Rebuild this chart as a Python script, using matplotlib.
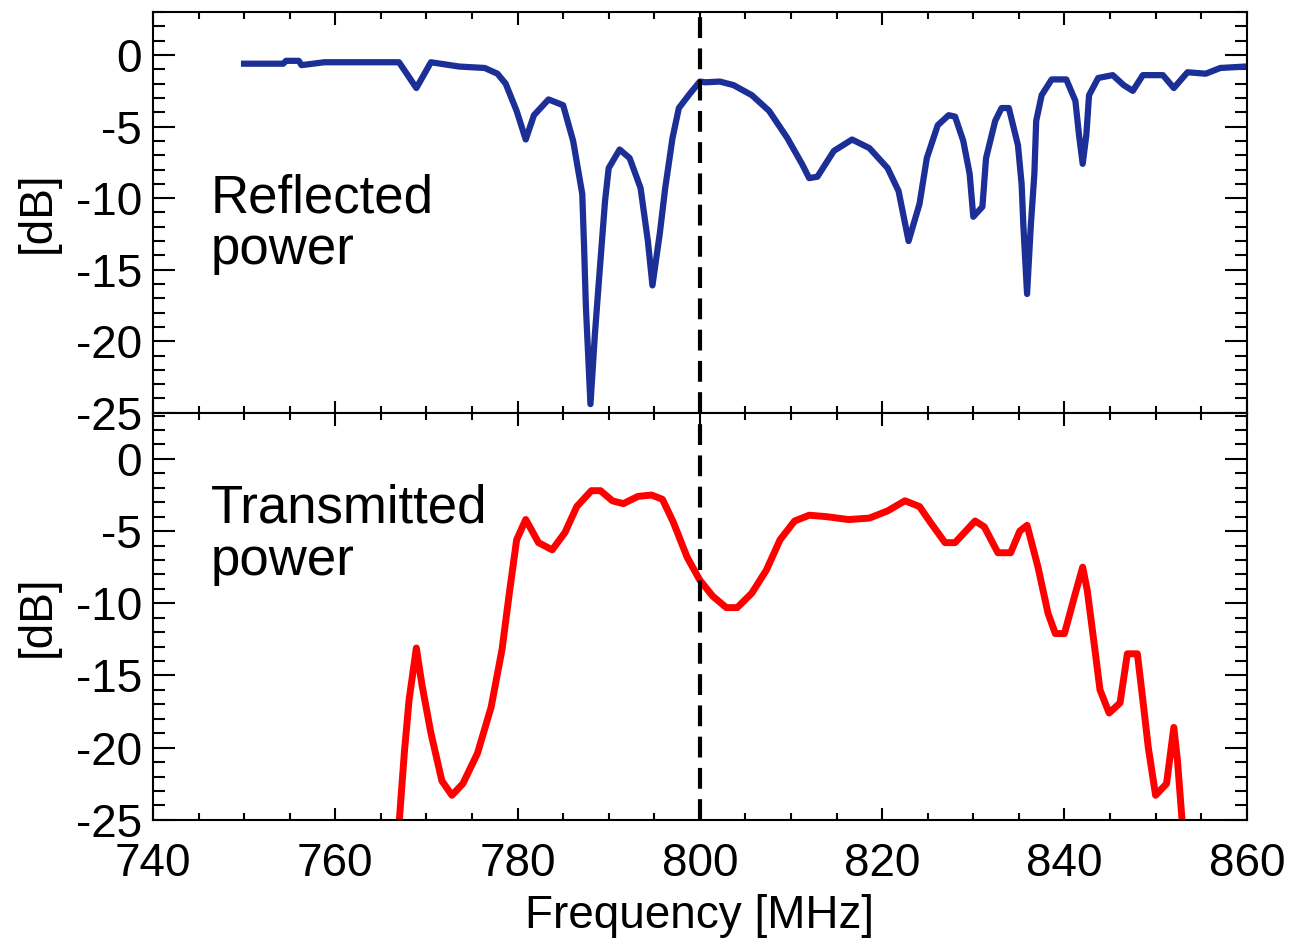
import numpy as np
import matplotlib
matplotlib.use("Agg")
import matplotlib.pyplot as plt
from matplotlib.ticker import MultipleLocator

plt.rcParams['font.family'] = ['Liberation Sans', 'DejaVu Sans']
plt.rcParams['axes.unicode_minus'] = False

# reflected power (top panel)
freq_ref = [750, 754.3, 754.6, 756, 756.3, 758.8, 767, 768.9, 770.5, 773.6, 776.4, 777.8, 778.7, 779.9,
            780.9, 781.8, 783.4, 785, 786.1, 787.1, 787.3, 787.5, 788, 788.5, 788.9, 789.6, 790,
            791.2, 792.3, 793.5, 794.3, 794.8, 795.6, 796.2, 797, 797.7, 798.9, 800,
            800.6, 802.2, 803.7, 805.7, 807.6, 809.6, 811.2, 812, 812.9, 814.7, 816.7, 818.6,
            820.6, 821.8, 822.9, 824.1, 824.9, 826.1, 827.3, 828, 828.9, 829.6, 830, 831,
            831.4, 832.4, 833.1, 833.9, 834.9, 835.3, 835.5, 835.9, 836.3, 836.7, 836.9, 837.5,
            838.6, 840.2, 841.2, 841.6, 842, 842.4, 842.7, 843.7, 845.3, 846.5, 847.5, 848.6,
            850.8, 852, 853.5, 855.5, 857.1, 859.8]
db_ref = [-0.6, -0.6, -0.4, -0.4, -0.7, -0.5, -0.5, -2.3, -0.5, -0.8, -0.9, -1.3, -2.0, -3.9,
          -5.9, -4.2, -3.1, -3.5, -6.0, -9.7, -13.4, -17.6, -24.4, -19.4, -16.0, -10.2, -7.9,
          -6.6, -7.2, -9.3, -13.0, -16.1, -12.5, -9.3, -5.8, -3.7, -2.7, -1.85,
          -1.9, -1.85, -2.1, -2.8, -3.9, -5.8, -7.6, -8.6, -8.5, -6.7, -5.9, -6.5,
          -7.9, -9.5, -13.0, -10.4, -7.2, -4.9, -4.2, -4.3, -6.0, -8.3, -11.3, -10.6,
          -7.2, -4.6, -3.7, -3.7, -6.3, -9.0, -12.0, -16.7, -12.0, -8.3, -4.6, -2.8,
          -1.7, -1.7, -3.2, -5.6, -7.6, -5.6, -2.8, -1.6, -1.4, -2.1, -2.5, -1.4,
          -1.4, -2.3, -1.2, -1.3, -0.9, -0.8]

# transmitted power (bottom panel)
freq_tr = [766.8, 767.6, 768.1, 768.9, 769.5, 770.5, 771.7, 772.8, 774, 775.6, 777.1, 778.3,
           779.1, 779.9, 780.9, 782.3, 783.8, 785.2, 786.5, 788.1, 789.1, 790.4, 791.6, 793.2,
           794.7, 795.9, 797.1, 798.6, 800, 801.4, 802.9, 804.1, 805.7, 807.3, 808.8, 810.4,
           812, 813.9, 816.3, 818.6, 820.6, 822.5, 824.1, 825.3, 826.9, 828, 830.2, 831.2,
           832.7, 834.1, 835.1, 835.9, 837.1, 838.2, 839, 840, 841.2, 842, 842.5, 843.3,
           843.9, 844.9, 846.1, 846.9, 848, 848.6, 849.2, 850, 851.2, 852, 852.4, 852.9, 853.2]
db_tr = [-27, -20.2, -16.7, -13.1, -15.6, -19.0, -22.3, -23.3, -22.5, -20.4, -17.2, -13.2,
         -9.3, -5.6, -4.2, -5.8, -6.3, -5.1, -3.3, -2.2, -2.2, -2.9, -3.1, -2.6,
         -2.5, -2.8, -4.4, -6.8, -8.4, -9.5, -10.3, -10.3, -9.3, -7.7, -5.6, -4.3,
         -3.9, -4.0, -4.2, -4.1, -3.6, -2.9, -3.3, -4.4, -5.8, -5.8, -4.3, -4.7,
         -6.5, -6.5, -5.0, -4.6, -7.5, -10.7, -12.1, -12.1, -9.3, -7.5, -9.1, -13.0,
         -16.0, -17.6, -16.9, -13.5, -13.5, -16.7, -20.0, -23.3, -22.5, -18.6, -20.9, -25.0, -27]

fig = plt.figure(figsize=(12.96, 9.38), dpi=100)
ax1 = fig.add_axes([0.118, 0.560, 0.844, 0.427])
ax2 = fig.add_axes([0.118, 0.126, 0.844, 0.434], sharex=ax1)

ax1.plot(freq_ref, db_ref, color='#1c2f96', lw=4.5)
ax2.plot(freq_tr, db_tr, color='#ff0000', lw=5)

for ax, top in ((ax1, 3.0), (ax2, 3.2)):
    ax.axvline(800, color='black', lw=3, linestyle=(0, (5, 2.5)))
    ax.set_xlim(740, 860)
    ax.set_ylim(-25, top)
    ax.xaxis.set_major_locator(MultipleLocator(20))
    ax.xaxis.set_minor_locator(MultipleLocator(5))
    ax.yaxis.set_major_locator(MultipleLocator(5))
    ax.yaxis.set_minor_locator(MultipleLocator(1))
    ax.tick_params(which='both', direction='in', top=True, right=True, width=1.5, labelsize=33)
    ax.tick_params(axis='y', which='major', length=16, pad=8)
    ax.tick_params(axis='y', which='minor', length=8.5)
    ax.tick_params(axis='x', which='major', length=9, pad=16)
    ax.tick_params(axis='x', which='minor', length=5)
    for s in ax.spines.values():
        s.set_linewidth(1.5)
    ax.set_ylabel('[dB]', fontsize=33)
    ax.yaxis.set_label_coords(-0.085, 0.5)

ax1.tick_params(labelbottom=False)
ax2.set_xlabel('Frequency [MHz]', fontsize=33, labelpad=6)

ax1.text(0.053, 0.47, 'Reflected\npower', transform=ax1.transAxes, fontsize=38,
         va='center', ha='left', linespacing=1.05)
ax2.text(0.053, 0.70, 'Transmitted\npower', transform=ax2.transAxes, fontsize=38,
         va='center', ha='left', linespacing=1.05)

fig.savefig('out.png', dpi=100)
